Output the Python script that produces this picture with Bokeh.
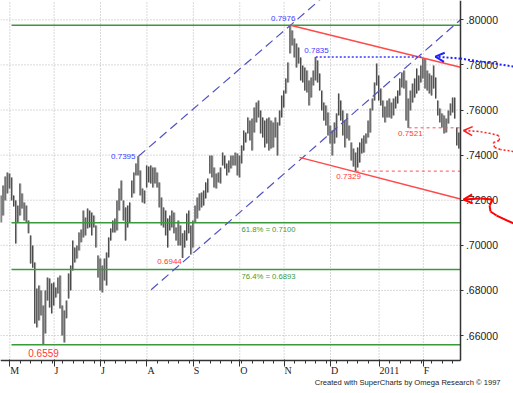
from bokeh.plotting import figure
from bokeh.models import (Range1d, FixedTicker, CustomJSTickFormatter, Label, LabelSet,
                          ColumnDataSource, Arrow, OpenHead, LinearAxis)
from bokeh.transform import dodge
from bokeh.embed import file_html
from bokeh.resources import INLINE

# ---------------- data (daily bars, x = trading-day index, 0 = 3 May 2010) -------------
bar_start = -4
highs = [
    0.7221, 0.7265, 0.7305, 0.7323,
    0.7318, 0.7301, 0.7221, 0.7199, 0.7176, 0.7274, 0.7230, 0.7190, 0.7176, 0.7110,
    0.7044, 0.6999, 0.6924, 0.6808, 0.6822, 0.6800, 0.6733, 0.6800, 0.6857, 0.6853,
    0.6831, 0.6835, 0.6813, 0.6857, 0.6866, 0.6733, 0.6711, 0.6755, 0.6875, 0.6910,
    0.7021, 0.6990, 0.6999, 0.7057, 0.7070, 0.7154, 0.7123, 0.7163, 0.7154, 0.7145,
    0.7132, 0.7088, 0.6955, 0.6941, 0.6910, 0.6941, 0.6968, 0.7035, 0.7075, 0.7110,
    0.7119, 0.7199, 0.7252, 0.7287, 0.7199, 0.7168, 0.7176, 0.7190, 0.7287, 0.7323,
    0.7363, 0.7395, 0.7332, 0.7252, 0.7243, 0.7354, 0.7349, 0.7354, 0.7345, 0.7345,
    0.7323, 0.7279, 0.7212, 0.7168, 0.7154, 0.7119, 0.7132, 0.7154, 0.7145, 0.7079,
    0.7110, 0.7088, 0.7053, 0.7066, 0.7141, 0.7154, 0.7088, 0.7110, 0.7176, 0.7212,
    0.7230, 0.7234, 0.7243, 0.7279, 0.7296, 0.7398, 0.7398, 0.7345, 0.7318, 0.7323,
    0.7345, 0.7411, 0.7398, 0.7363, 0.7376, 0.7398, 0.7398, 0.7411, 0.7407, 0.7398,
    0.7443, 0.7509, 0.7500, 0.7567, 0.7553, 0.7562, 0.7611, 0.7633, 0.7642, 0.7598,
    0.7567, 0.7553, 0.7562, 0.7567, 0.7553, 0.7545, 0.7567, 0.7545, 0.7598, 0.7664,
    0.7686, 0.7740, 0.7811, 0.7976, 0.7953, 0.7917, 0.7895, 0.7877, 0.7833, 0.7797,
    0.7788, 0.7775, 0.7731, 0.7744, 0.7775, 0.7835, 0.7820, 0.7762, 0.7686, 0.7633,
    0.7620, 0.7589, 0.7531, 0.7509, 0.7545, 0.7585, 0.7673, 0.7642, 0.7598, 0.7553,
    0.7585, 0.7531, 0.7456, 0.7429, 0.7411, 0.7434, 0.7456, 0.7474, 0.7487, 0.7496,
    0.7553, 0.7607, 0.7651, 0.7722, 0.7806, 0.7753, 0.7695, 0.7642, 0.7615, 0.7642,
    0.7651, 0.7633, 0.7651, 0.7660, 0.7686, 0.7740, 0.7766, 0.7775, 0.7731, 0.7651,
    0.7686, 0.7717, 0.7740, 0.7784, 0.7753, 0.7797, 0.7830, 0.7828, 0.7775, 0.7762,
    0.7753, 0.7797, 0.7744, 0.7642, 0.7607, 0.7585, 0.7576, 0.7562, 0.7598, 0.7629,
    0.7655, 0.7655, 0.7522, 0.7500,
]
lows = [
    0.7101, 0.7132, 0.7199, 0.7230,
    0.7252, 0.7199, 0.7172, 0.7008, 0.7101, 0.7132, 0.7163, 0.7110, 0.7101, 0.7053,
    0.6919, 0.6901, 0.6653, 0.6636, 0.6667, 0.6689, 0.6559, 0.6609, 0.6755, 0.6724,
    0.6698, 0.6733, 0.6768, 0.6786, 0.6720, 0.6600, 0.6569, 0.6676, 0.6764, 0.6800,
    0.6888, 0.6924, 0.6941, 0.6977, 0.7013, 0.7035, 0.7044, 0.7075, 0.7079, 0.7044,
    0.7079, 0.6990, 0.6857, 0.6800, 0.6791, 0.6844, 0.6822, 0.6946, 0.7021, 0.7057,
    0.7057, 0.7066, 0.7154, 0.7199, 0.7110, 0.7021, 0.7079, 0.7101, 0.7212, 0.7230,
    0.7310, 0.7310, 0.7221, 0.7190, 0.7185, 0.7256, 0.7279, 0.7274, 0.7256, 0.7274,
    0.7256, 0.7168, 0.7088, 0.7079, 0.7044, 0.6990, 0.7066, 0.7079, 0.7053, 0.7021,
    0.6999, 0.6999, 0.6944, 0.6990, 0.7021, 0.7053, 0.6959, 0.6990, 0.7101, 0.7119,
    0.7154, 0.7168, 0.7176, 0.7208, 0.7234, 0.7318, 0.7301, 0.7256, 0.7252, 0.7279,
    0.7274, 0.7354, 0.7341, 0.7310, 0.7323, 0.7341, 0.7354, 0.7354, 0.7310, 0.7301,
    0.7363, 0.7420, 0.7456, 0.7496, 0.7465, 0.7420, 0.7500, 0.7545, 0.7567, 0.7496,
    0.7478, 0.7434, 0.7451, 0.7420, 0.7429, 0.7434, 0.7478, 0.7398, 0.7531, 0.7567,
    0.7611, 0.7673, 0.7722, 0.7851, 0.7886, 0.7833, 0.7788, 0.7806, 0.7731, 0.7722,
    0.7686, 0.7678, 0.7620, 0.7655, 0.7709, 0.7731, 0.7722, 0.7686, 0.7598, 0.7553,
    0.7531, 0.7487, 0.7451, 0.7398, 0.7451, 0.7478, 0.7576, 0.7553, 0.7487, 0.7434,
    0.7474, 0.7465, 0.7376, 0.7349, 0.7329, 0.7345, 0.7367, 0.7407, 0.7411, 0.7451,
    0.7478, 0.7500, 0.7598, 0.7642, 0.7709, 0.7642, 0.7620, 0.7567, 0.7545, 0.7567,
    0.7567, 0.7562, 0.7576, 0.7607, 0.7629, 0.7664, 0.7700, 0.7695, 0.7553, 0.7521,
    0.7598, 0.7633, 0.7655, 0.7673, 0.7686, 0.7722, 0.7740, 0.7695, 0.7686, 0.7673,
    0.7664, 0.7695, 0.7651, 0.7576, 0.7545, 0.7522, 0.7496, 0.7500, 0.7540, 0.7576,
    0.7589, 0.7562, 0.7443, 0.7429,
]

month_starts = [0, 21, 43, 65, 87, 109, 130, 152, 175, 196]
month_labels = ["M", "J", "J", "A", "S", "O", "N", "D", "2011", "F"]
y_ticks = [0.66, 0.68, 0.70, 0.72, 0.74, 0.76, 0.78, 0.80]
y_tick_labels = [".66000", ".68000", ".70000", ".72000", ".74000", ".76000", ".78000", ".80000"]

# Fibonacci levels (green)
fib_levels = [0.7976, 0.7100, 0.6893, 0.6559]
fib_texts = ["", "61.8% = 0.7100", "76.4% = 0.6893", ""]

# pivot points: (bar index, price, text)
pivot_idx = [61, 133, 145, 82, 16, 164, 189]
pivot_price = [0.7395, 0.7976, 0.7835, 0.6944, 0.6559, 0.7329, 0.7521]
pivot_text = ["0.7395", "0.7976", "0.7835", "0.6944", "0.6559", "0.7329", "0.7521"]

# trend / channel lines anchored on pivots: (x0, y0, x1, y1)
channel_upper = (61, 0.7395, 150, 0.8113)
channel_lower = (67, 0.6803, 213.6, 0.8000)
trend_upper = (133, 0.7976, 213.6, 0.7790)
trend_lower = (137.3, 0.7390, 213.6, 0.7205)

# hand-drawn arrows (tip first)
blue_arrow = [(201.7, 0.7837), (213.6, 0.7828), (238.7, 0.7793)]
red_dotted_arrow = [(215.0, 0.7509), (222.1, 0.7505), (227.8, 0.7496), (231.6, 0.7487),
                    (232.1, 0.7465), (229.2, 0.7456), (229.7, 0.7434), (232.5, 0.7425),
                    (238.7, 0.7416)]
red_solid_arrow = [(215.0, 0.7203), (223.1, 0.7208), (228.8, 0.7203), (227.4, 0.7176),
                   (227.8, 0.7150), (230.7, 0.7132), (238.7, 0.7097)]

# ---------------- layout / styling ----------------
BLUE = "#3c3cff"
RED = "#ff3838"
GREEN = "#3a9a3a"
AXIS = "#333333"
SANS = "Liberation Sans"
X_MIN, X_MAX = -4.408, 238.72       # whole canvas width
Y_MIN, Y_MAX = 0.63428, 0.80856     # whole canvas height
AXIS_X = 213.8                      # where the price axis sits
AXIS_Y = 0.64891                    # where the time axis sits

p = figure(frame_width=513, frame_height=393,
           x_range=Range1d(X_MIN, X_MAX), y_range=Range1d(Y_MIN, Y_MAX),
           x_axis_location=None, y_axis_location=None,
           output_backend="svg", toolbar_location=None,
           min_border_left=0, min_border_top=0, min_border_right=0, min_border_bottom=0,
           background_fill_color="white", border_fill_color="white")
p.outline_line_color = None
p.xgrid.visible = False
p.ygrid.visible = False

# grid (dotted, limited to the chart area)
p.segment(x0=X_MIN, y0=y_ticks, x1=AXIS_X, y1=y_ticks,
          line_color="#b4b4b4", line_dash="1 2", line_width=1)
p.segment(x0=month_starts, y0=AXIS_Y, x1=month_starts, y1=Y_MAX,
          line_color="#b4b4b4", line_dash="1 2", line_width=1)

# time axis
xax = LinearAxis(fixed_location=AXIS_Y, bounds=(X_MIN, AXIS_X),
                 ticker=FixedTicker(ticks=month_starts, minor_ticks=list(range(0, 214, 5))),
                 formatter=CustomJSTickFormatter(code="return '';"))
xax.major_tick_out = 6
xax.major_tick_in = 1
xax.minor_tick_out = 3
xax.minor_tick_in = 0
xax.axis_line_color = AXIS
xax.axis_line_width = 1.5
xax.major_tick_line_color = AXIS
xax.minor_tick_line_color = AXIS
p.add_layout(xax, "below")

# price axis
yax = LinearAxis(fixed_location=AXIS_X, bounds=(AXIS_Y, Y_MAX),
                 ticker=FixedTicker(ticks=y_ticks),
                 formatter=CustomJSTickFormatter(
                     args=dict(yt=y_ticks, yl=y_tick_labels),
                     code="const i = yt.findIndex(t => Math.abs(t - tick) < 1e-9); return i >= 0 ? yl[i] : '';"))
yax.major_tick_out = 3
yax.major_tick_in = 0
yax.minor_tick_line_color = None
yax.axis_line_color = AXIS
yax.axis_line_width = 1.5
yax.major_tick_line_color = AXIS
yax.major_label_standoff = 2
yax.major_label_text_font = SANS
yax.major_label_text_font_size = "10.5px"
yax.major_label_text_color = "#222222"
p.add_layout(yax, "right")

# month labels (left aligned at month start, below the time axis)
p.add_layout(LabelSet(x="x", y=0.64448, text="t",
                      source=ColumnDataSource(dict(x=month_starts, t=month_labels)),
                      x_offset=0.5, text_align="left", text_baseline="middle",
                      text_font=SANS, text_font_size="10px", text_color="#222222"))

# bars
src = ColumnDataSource(dict(x=list(range(bar_start, bar_start + len(highs))), hi=highs, lo=lows))
p.vbar(x="x", top="hi", bottom="lo", width=0.95, source=src, fill_color="#a8a8a8", line_color=None)
p.segment(x0=dodge("x", -0.25), y0="hi", x1=dodge("x", -0.25), y1="lo", source=src,
          line_color="#474747", line_width=1)

# fib lines
for lv, tx in zip(fib_levels, fib_texts):
    p.segment(x0=0.8, y0=lv, x1=AXIS_X, y1=lv, line_color=GREEN, line_width=1.4)
    if tx:
        p.add_layout(Label(x=109.8, y=lv, text=tx, y_offset=-2.5, text_align="left",
                           text_baseline="top", text_font=SANS, text_font_size="7.7px",
                           text_color=GREEN))

# channel (blue dashed)
for (x0, y0, x1, y1) in (channel_upper, channel_lower):
    p.line([x0, x1], [y0, y1], line_color="#5252c4", line_width=1.2, line_dash="9 5")

# red trend lines
for (x0, y0, x1, y1) in (trend_upper, trend_lower):
    p.line([x0, x1], [y0, y1], line_color="#ff4a4a", line_width=1.5)

# dotted/dashed horizontal pivot lines
p.line([pivot_idx[2], 195], [pivot_price[2]] * 2, line_color=BLUE, line_width=1.5, line_dash="2 2")
p.line([pivot_idx[6], AXIS_X], [pivot_price[6]] * 2, line_color="#ff5050", line_width=1, line_dash="3 3")
p.line([pivot_idx[5], AXIS_X], [pivot_price[5]] * 2, line_color="#ff5050", line_width=1, line_dash="3 3")

# pivot labels: (align, x_offset px, y_offset px, colour, size)
pivot_style = [
    ("right", -3, 0, BLUE, "8px"),
    ("right", 5, 7, BLUE, "8px"),
    ("right", 13, 6.5, BLUE, "8px"),
    ("right", -1, -3.6, RED, "8px"),
    ("center", 0, -8, RED, "10px"),
    ("right", 5, -5.5, RED, "8px"),
    ("right", 14, -6, RED, "8px"),
]
for xi, yv, tx, (al, xo, yo, col, fs) in zip(pivot_idx, pivot_price, pivot_text, pivot_style):
    p.add_layout(Label(x=xi, y=yv, text=tx, x_offset=xo, y_offset=yo, text_align=al,
                       text_baseline="middle", text_font=SANS, text_font_size=fs,
                       text_color=col))

# hand-drawn arrows
def draw_arrow(pts, color, width, dash):
    for k in range(len(pts) - 1):
        head = OpenHead(size=9, line_color=color, line_width=width) if k == 0 else None
        p.add_layout(Arrow(x_start=pts[k + 1][0], y_start=pts[k + 1][1],
                           x_end=pts[k][0], y_end=pts[k][1], end=head,
                           line_color=color, line_width=width, line_dash=dash))

draw_arrow(blue_arrow, "#2020ff", 2, "2 2")
draw_arrow(red_dotted_arrow, "#ff2020", 1.5, "2 2")
draw_arrow(red_solid_arrow, "#ff0000", 2, "solid")

# credit
p.add_layout(Label(x=232.6, y=0.63916, text="Created with SuperCharts by Omega Research \u00a9 1997",
                   text_align="right", text_baseline="middle", text_font=SANS,
                   text_font_size="7.6px", text_color="#222222"))

open("out.html", "w").write(file_html(p, INLINE))
